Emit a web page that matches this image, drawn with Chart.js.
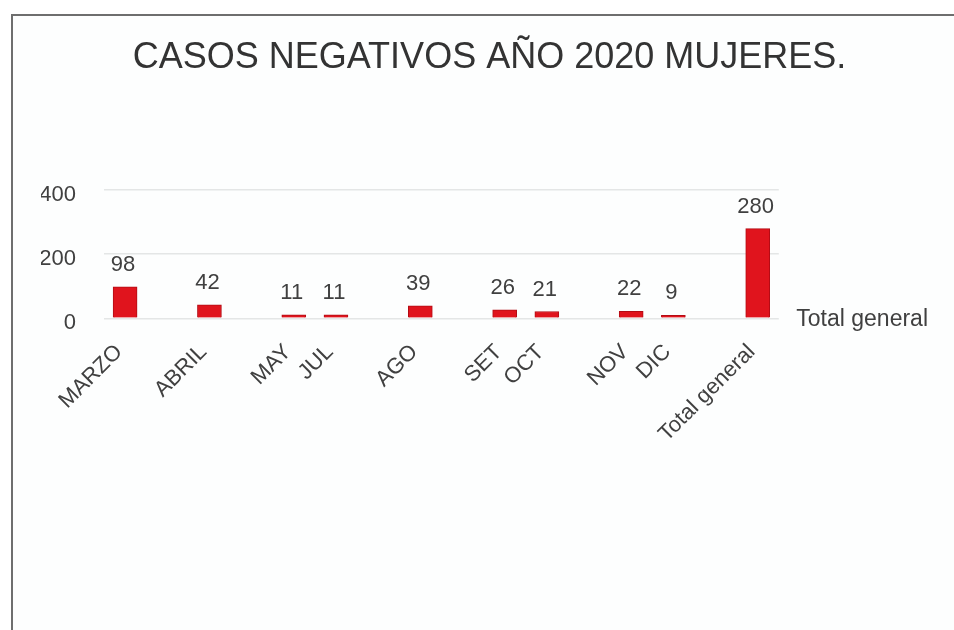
<!DOCTYPE html>
<html lang="es">
<head>
<meta charset="utf-8">
<title>Casos negativos año 2020 mujeres</title>
<script src="https://cdn.jsdelivr.net/npm/chart.js@4.4.1/dist/chart.umd.min.js"></script>
<style>
  html, body { margin: 0; padding: 0; background: #ffffff; overflow: hidden; }
  #frame {
    position: absolute; left: 11px; top: 14px; width: 1000px; height: 700px;
    border: 2px solid #6e6e6e; box-sizing: border-box; background: #fdfefe;
  }
  #wrap { position: absolute; left: 0; top: 0; width: 954px; height: 630px; }
</style>
</head>
<body>
<div id="frame"></div>
<div id="wrap"><canvas id="chart" width="954" height="630"></canvas></div>
<script>
// Months with cases (blank slots keep the original spacing between groups)
const categories = ['MARZO', '', 'ABRIL', '', 'MAY', 'JUL', '', 'AGO', '', 'SET', 'OCT', '', 'NOV', 'DIC', '', 'Total general'];
// Negative cases among women, 2020
const casos = [98, null, 42, null, 11, 11, null, 39, null, 26, 21, null, 22, 9, null, 280];
// Value axis ticks
const yTicks = [0, 200, 400];

const textColor = '#404040';
const fontFamily = '"Liberation Sans", Arial, sans-serif';

// Writes each bar's value above it
const valueLabels = {
  id: 'valueLabels',
  afterDatasetsDraw(chart) {
    const ctx = chart.ctx;
    const meta = chart.getDatasetMeta(0);
    ctx.save();
    ctx.fillStyle = textColor;
    ctx.font = '22px ' + fontFamily;
    ctx.textAlign = 'center';
    ctx.textBaseline = 'middle';
    meta.data.forEach((bar, i) => {
      const v = chart.data.datasets[0].data[i];
      if (v === null || v === undefined) return;
      ctx.fillText(String(v), bar.x - 2, bar.y - 22);
    });
    ctx.restore();
  }
};

new Chart(document.getElementById('chart'), {
  type: 'bar',
  data: {
    labels: categories,
    datasets: [{
      label: 'Total general',
      data: casos,
      backgroundColor: '#e0141d',
      borderColor: '#b30c14',
      borderWidth: 1,
      barThickness: 24,
      skipNull: true
    }]
  },
  options: {
    responsive: false,
    animation: false,
    events: [],
    layout: { padding: { left: 41, right: 16, top: 20, bottom: 162 } },
    plugins: {
      title: {
        display: true,
        text: 'CASOS NEGATIVOS AÑO 2020 MUJERES.',
        color: '#333333',
        font: { family: fontFamily, size: 36, weight: 'normal' },
        padding: { top: 16, bottom: 111 }
      },
      legend: {
        position: 'right',
        align: 'start',
        // empty heading used as a spacer so the entry sits level with the baseline
        title: {
          display: true,
          text: ' ',
          font: { family: fontFamily, size: 12 },
          padding: { top: 0, bottom: 268 }
        },
        labels: {
          color: textColor,
          font: { family: fontFamily, size: 23 },
          boxWidth: 0,
          boxHeight: 0,
          padding: 6
        }
      },
      tooltip: { enabled: false }
    },
    scales: {
      x: {
        grid: { display: false, drawTicks: false },
        border: { display: false },
        afterFit(scale) { scale.paddingLeft = 0; scale.paddingRight = 0; },
        ticks: {
          autoSkip: false,
          minRotation: 45,
          maxRotation: 45,
          padding: 21,
          labelOffset: -6,
          color: textColor,
          font: { family: fontFamily, size: 22 }
        }
      },
      y: {
        min: 0,
        max: 400,
        afterBuildTicks(axis) { axis.ticks = yTicks.map(v => ({ value: v })); },
        afterFit(scale) { scale.width = 63; },
        grid: { color: '#e4e6e6', drawTicks: false, lineWidth: 1.5 },
        border: { display: false },
        ticks: {
          padding: 28,
          labelOffset: 5,
          color: textColor,
          font: { family: fontFamily, size: 22 }
        }
      }
    }
  },
  plugins: [valueLabels]
});
</script>
</body>
</html>
